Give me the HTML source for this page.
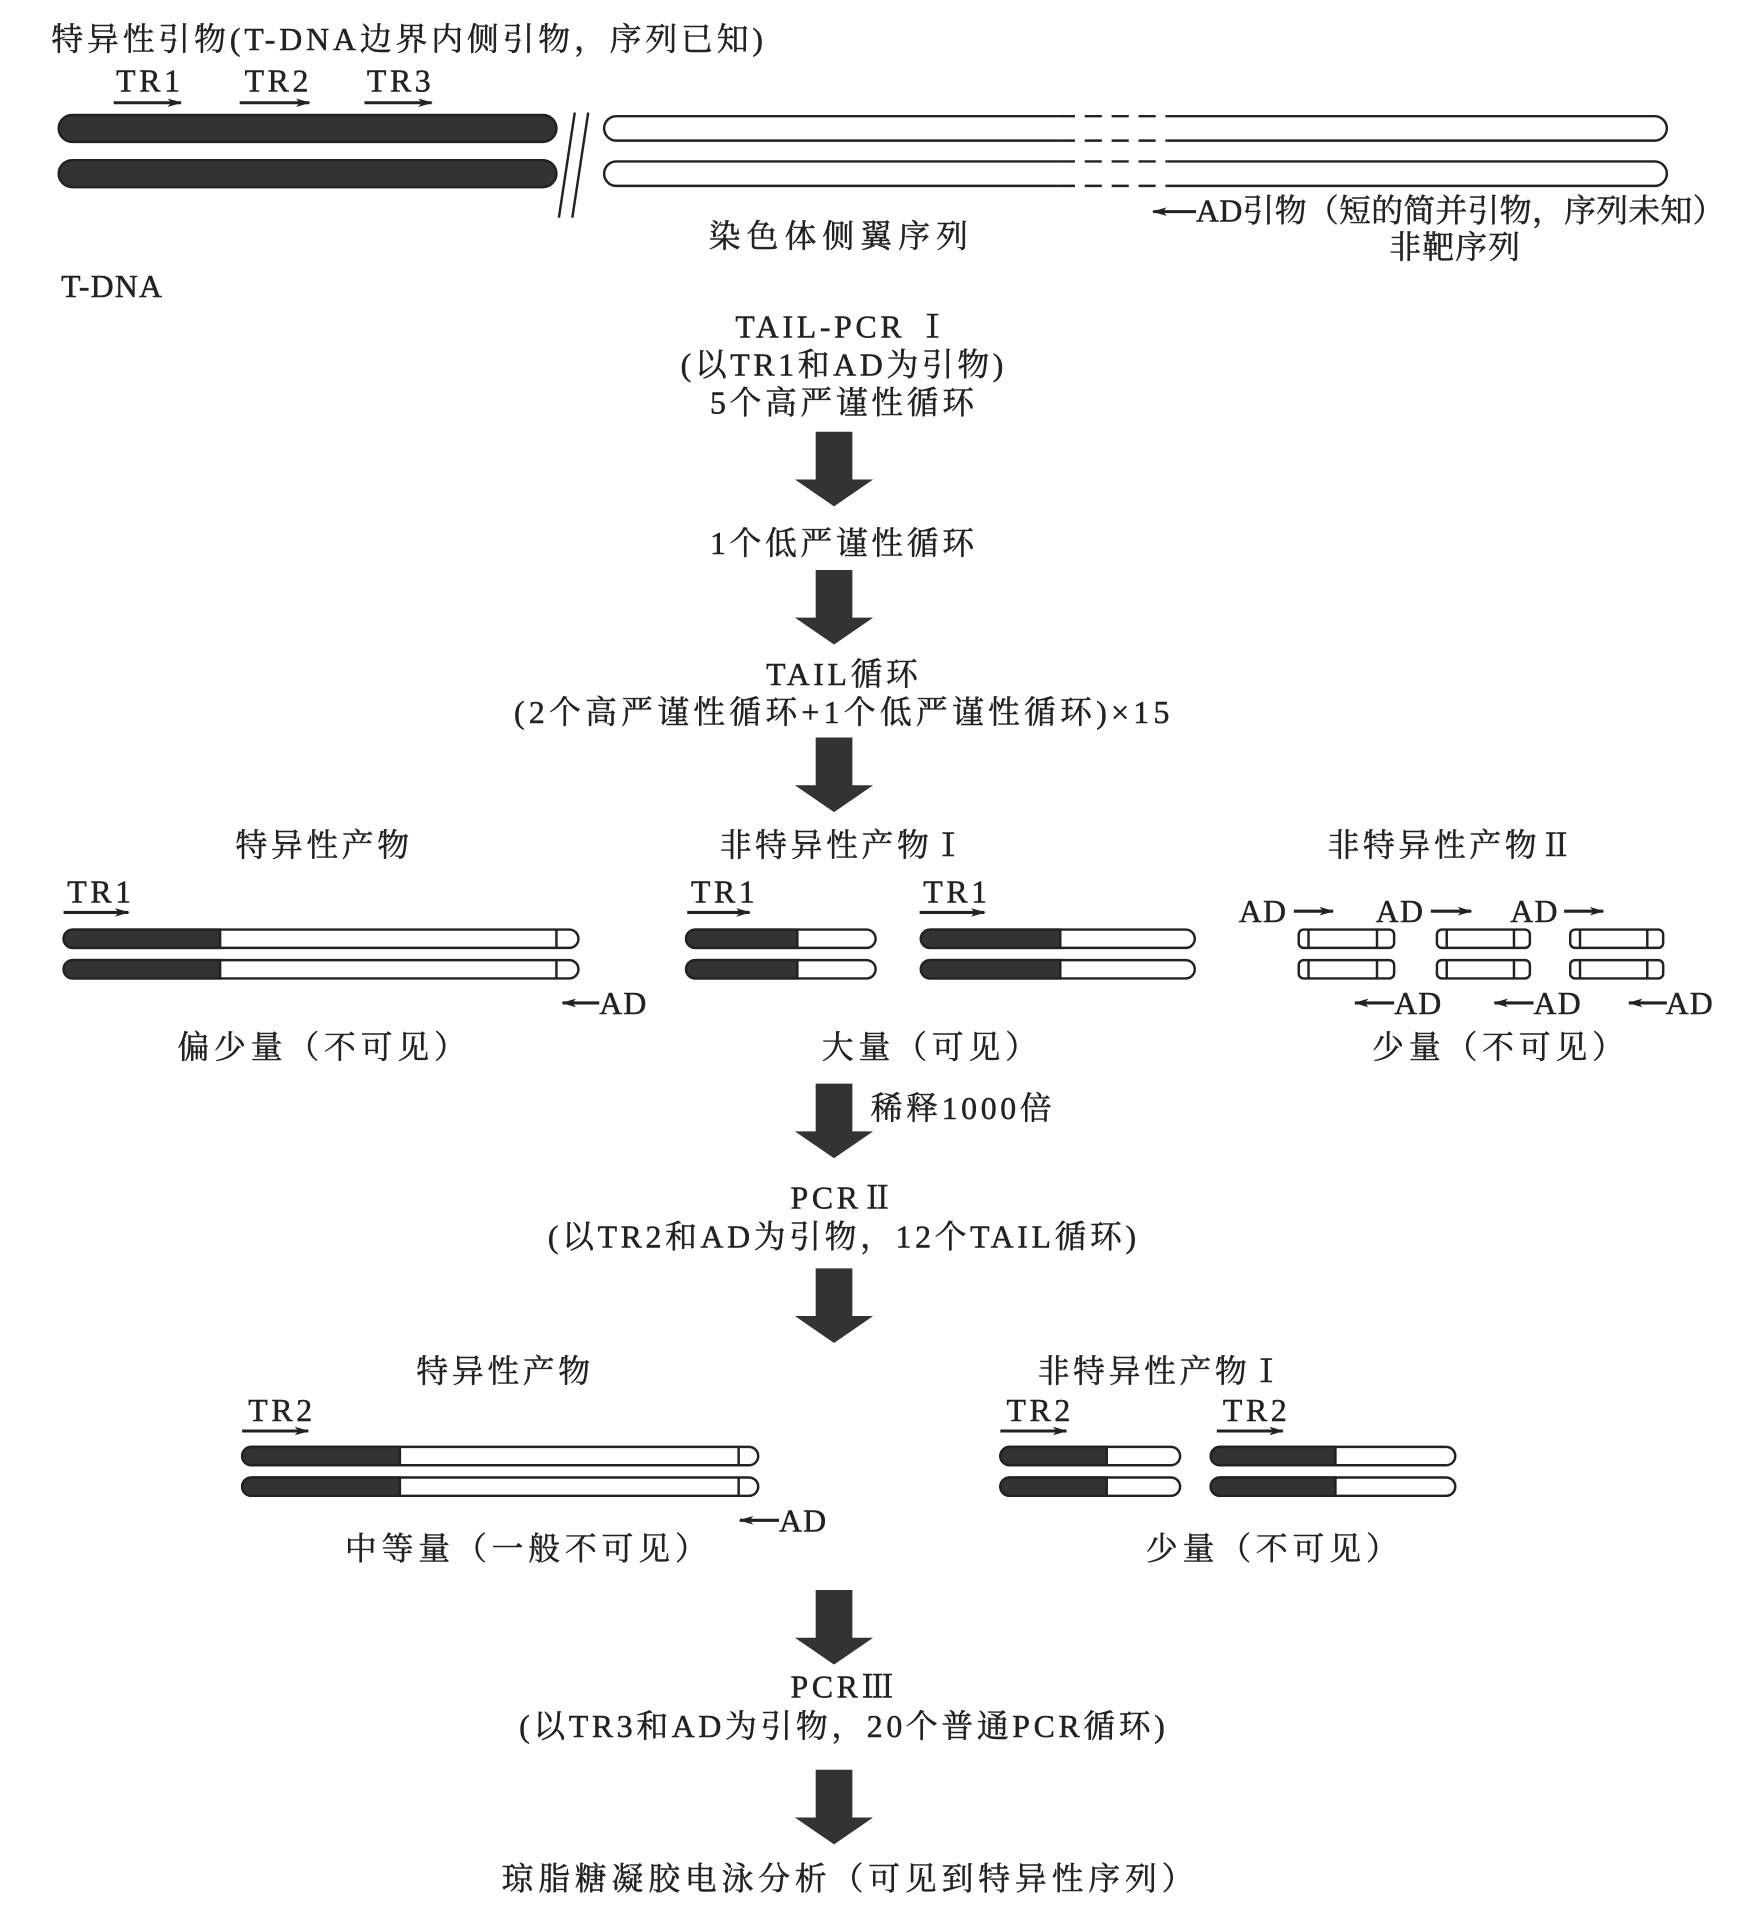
<!DOCTYPE html>
<html><head><meta charset="utf-8"><style>
html,body{margin:0;padding:0;background:#fff}
svg{display:block}
text{font-family:"Liberation Serif","Noto Serif CJK SC",serif;font-size:26px;fill:#222;letter-spacing:3px;stroke:#222;stroke-width:0.4px}
.c{text-anchor:middle}
</style></head><body>
<svg width="1761" height="1908" viewBox="0 0 1440 1560" preserveAspectRatio="none" xmlns="http://www.w3.org/2000/svg">
<defs>
<marker id="ah" markerWidth="12" markerHeight="8" refX="11" refY="4" orient="auto" markerUnits="userSpaceOnUse"><path d="M0,0.5 L12,4 L0,7.5 L3,4 Z" fill="#222"/></marker>
<g id="blk"><polygon points="-15,0 15,0 15,39 32,39 0,61 -32,39 -15,39" fill="#333"/></g>
</defs>
<g stroke="#222" stroke-width="2.5" fill="none">
<line x1="93" y1="84" x2="148" y2="84" marker-end="url(#ah)"/>
<line x1="196" y1="84" x2="253" y2="84" marker-end="url(#ah)"/>
<line x1="298" y1="84" x2="353" y2="84" marker-end="url(#ah)"/>
</g>
<text x="42" y="41" style="letter-spacing:3.2px">特异性引物(T-DNA边界内侧引物，序列已知)</text>
<text x="95" y="75">TR1</text><text x="200" y="75">TR2</text><text x="300" y="75">TR3</text>
<rect x="48" y="94" width="407" height="22" rx="11" fill="#333" stroke="#222" stroke-width="2"/>
<rect x="48" y="131" width="407" height="22" rx="11" fill="#333" stroke="#222" stroke-width="2"/>
<line x1="470" y1="92" x2="457" y2="178" stroke="#222" stroke-width="2"/>
<line x1="481" y1="92" x2="468" y2="178" stroke="#222" stroke-width="2"/>
<g stroke="#222" stroke-width="2" fill="#fff">
<path d="M865,95 H504 A10,10 0 0 0 504,115 H865"/>
<path d="M955,95 H1353 A10,10 0 0 1 1353,115 H955"/>
<path d="M865,132 H504 A10,10 0 0 0 504,152 H865"/>
<path d="M955,132 H1353 A10,10 0 0 1 1353,152 H955"/>
</g>
<g stroke="#222" stroke-width="2" stroke-dasharray="14,8">
<line x1="865" y1="95" x2="955" y2="95"/><line x1="865" y1="115" x2="955" y2="115"/>
<line x1="865" y1="132" x2="955" y2="132"/><line x1="865" y1="152" x2="955" y2="152"/>
</g>
<text class="c" x="688" y="202" style="letter-spacing:5px">染色体侧翼序列</text>
<line x1="978" y1="173" x2="943" y2="173" stroke="#222" stroke-width="2.5" marker-end="url(#ah)"/>
<text x="978" y="181" font-size="24" style="letter-spacing:0.3px">AD引物（短的简并引物，序列未知）</text>
<text class="c" x="1190" y="211" font-size="24" style="letter-spacing:1px">非靶序列</text>
<text x="50" y="243" font-size="25" style="letter-spacing:1px">T-DNA</text>

<text class="c" x="690" y="276">TAIL-PCR Ⅰ</text>
<text class="c" x="690" y="307">(以TR1和AD为引物)</text>
<text class="c" x="690" y="338">5个高严谨性循环</text>
<use href="#blk" x="682" y="353"/>
<text class="c" x="690" y="453">1个低严谨性循环</text>
<use href="#blk" x="682" y="466"/>
<text class="c" x="690" y="560">TAIL循环</text>
<text class="c" x="690" y="591" style="letter-spacing:3.5px">(2个高严谨性循环+1个低严谨性循环)×15</text>
<use href="#blk" x="682" y="603"/>

<text class="c" x="265" y="700">特异性产物</text>
<text class="c" x="690" y="700">非特异性产物Ⅰ</text>
<text class="c" x="1187" y="700">非特异性产物Ⅱ</text>
<text x="55" y="738">TR1</text><text x="565" y="738">TR1</text><text x="755" y="738">TR1</text>
<g stroke="#222" stroke-width="2.5">
<line x1="52" y1="746" x2="105" y2="746" marker-end="url(#ah)"/>
<line x1="562" y1="746" x2="613" y2="746" marker-end="url(#ah)"/>
<line x1="752" y1="746" x2="805" y2="746" marker-end="url(#ah)"/>
</g>
<g stroke="#222" stroke-width="2">
<rect x="52" y="760" width="421" height="15" rx="7.5" fill="#fff"/><path d="M59.5,760 H180 V775 H59.5 A7.5,7.5 0 0 1 59.5,760Z" fill="#333"/><line x1="455" y1="760" x2="455" y2="775"/>
<rect x="52" y="785" width="421" height="15" rx="7.5" fill="#fff"/><path d="M59.5,785 H180 V800 H59.5 A7.5,7.5 0 0 1 59.5,785Z" fill="#333"/><line x1="455" y1="785" x2="455" y2="800"/>
<rect x="561" y="760" width="155" height="15" rx="7.5" fill="#fff"/><path d="M568.5,760 H652 V775 H568.5 A7.5,7.5 0 0 1 568.5,760Z" fill="#333"/>
<rect x="561" y="785" width="155" height="15" rx="7.5" fill="#fff"/><path d="M568.5,785 H652 V800 H568.5 A7.5,7.5 0 0 1 568.5,785Z" fill="#333"/>
<rect x="753" y="760" width="224" height="15" rx="7.5" fill="#fff"/><path d="M760.5,760 H867 V775 H760.5 A7.5,7.5 0 0 1 760.5,760Z" fill="#333"/>
<rect x="753" y="785" width="224" height="15" rx="7.5" fill="#fff"/><path d="M760.5,785 H867 V800 H760.5 A7.5,7.5 0 0 1 760.5,785Z" fill="#333"/>
<g fill="#fff">
<rect x="1062" y="760" width="78" height="15" rx="4"/><rect x="1062" y="785" width="78" height="15" rx="4"/>
<rect x="1175" y="760" width="76" height="15" rx="4"/><rect x="1175" y="785" width="76" height="15" rx="4"/>
<rect x="1284" y="760" width="76" height="15" rx="4"/><rect x="1284" y="785" width="76" height="15" rx="4"/>
</g>
<line x1="1070" y1="760" x2="1070" y2="775"/><line x1="1126" y1="760" x2="1126" y2="775"/>
<line x1="1070" y1="785" x2="1070" y2="800"/><line x1="1126" y1="785" x2="1126" y2="800"/>
<line x1="1183" y1="760" x2="1183" y2="775"/><line x1="1238" y1="760" x2="1238" y2="775"/>
<line x1="1183" y1="785" x2="1183" y2="800"/><line x1="1238" y1="785" x2="1238" y2="800"/>
<line x1="1292" y1="760" x2="1292" y2="775"/><line x1="1347" y1="760" x2="1347" y2="775"/>
<line x1="1292" y1="785" x2="1292" y2="800"/><line x1="1347" y1="785" x2="1347" y2="800"/>
</g>
<g stroke="#222" stroke-width="2.5">
<line x1="1058" y1="745" x2="1090" y2="745" marker-end="url(#ah)"/>
<line x1="1170" y1="745" x2="1203" y2="745" marker-end="url(#ah)"/>
<line x1="1279" y1="745" x2="1311" y2="745" marker-end="url(#ah)"/>
<line x1="490" y1="820" x2="460" y2="820" marker-end="url(#ah)"/>
<line x1="1140" y1="820" x2="1108" y2="820" marker-end="url(#ah)"/>
<line x1="1254" y1="820" x2="1222" y2="820" marker-end="url(#ah)"/>
<line x1="1363" y1="820" x2="1332" y2="820" marker-end="url(#ah)"/>
</g>
<text x="1013" y="754" style="letter-spacing:1px">AD</text><text x="1125" y="754" style="letter-spacing:1px">AD</text><text x="1235" y="754" style="letter-spacing:1px">AD</text>
<text x="490" y="829" style="letter-spacing:1px">AD</text><text x="1140" y="829" style="letter-spacing:1px">AD</text><text x="1254" y="829" style="letter-spacing:1px">AD</text><text x="1362" y="829" style="letter-spacing:1px">AD</text>
<text class="c" x="265" y="865" style="letter-spacing:4px">偏少量（不可见）</text>
<text class="c" x="762" y="865" style="letter-spacing:4px">大量（可见）</text>
<text class="c" x="1227" y="865" style="letter-spacing:4px">少量（不可见）</text>

<use href="#blk" x="682" y="886"/>
<text x="712" y="915">稀释1000倍</text>
<text class="c" x="690" y="988">PCRⅡ</text>
<text class="c" x="690" y="1020">(以TR2和AD为引物，12个TAIL循环)</text>
<use href="#blk" x="682" y="1037"/>

<text class="c" x="413" y="1130">特异性产物</text>
<text class="c" x="950" y="1130">非特异性产物Ⅰ</text>
<text x="203" y="1162">TR2</text><text x="823" y="1162">TR2</text><text x="1000" y="1162">TR2</text>
<g stroke="#222" stroke-width="2.5">
<line x1="198" y1="1170" x2="252" y2="1170" marker-end="url(#ah)"/>
<line x1="818" y1="1170" x2="872" y2="1170" marker-end="url(#ah)"/>
<line x1="995" y1="1170" x2="1049" y2="1170" marker-end="url(#ah)"/>
<line x1="637" y1="1243" x2="605" y2="1243" marker-end="url(#ah)"/>
</g>
<g stroke="#222" stroke-width="2">
<rect x="198" y="1183" width="422" height="15" rx="7.5" fill="#fff"/><path d="M205.5,1183 H327 V1198 H205.5 A7.5,7.5 0 0 1 205.5,1183Z" fill="#333"/><line x1="604" y1="1183" x2="604" y2="1198"/>
<rect x="198" y="1208" width="422" height="15" rx="7.5" fill="#fff"/><path d="M205.5,1208 H327 V1223 H205.5 A7.5,7.5 0 0 1 205.5,1208Z" fill="#333"/><line x1="604" y1="1208" x2="604" y2="1223"/>
<rect x="818" y="1183" width="147" height="15" rx="7.5" fill="#fff"/><path d="M825.5,1183 H905 V1198 H825.5 A7.5,7.5 0 0 1 825.5,1183Z" fill="#333"/>
<rect x="818" y="1208" width="147" height="15" rx="7.5" fill="#fff"/><path d="M825.5,1208 H905 V1223 H825.5 A7.5,7.5 0 0 1 825.5,1208Z" fill="#333"/>
<rect x="990" y="1183" width="200" height="15" rx="7.5" fill="#fff"/><path d="M997.5,1183 H1092 V1198 H997.5 A7.5,7.5 0 0 1 997.5,1183Z" fill="#333"/>
<rect x="990" y="1208" width="200" height="15" rx="7.5" fill="#fff"/><path d="M997.5,1208 H1092 V1223 H997.5 A7.5,7.5 0 0 1 997.5,1208Z" fill="#333"/>
</g>
<text x="637" y="1252" style="letter-spacing:1px">AD</text>
<text class="c" x="432" y="1275" style="letter-spacing:4px">中等量（一般不可见）</text>
<text class="c" x="1042" y="1275" style="letter-spacing:4px">少量（不可见）</text>

<use href="#blk" x="682" y="1300"/>
<text class="c" x="690" y="1388">PCRⅢ</text>
<text class="c" x="690" y="1420">(以TR3和AD为引物，20个普通PCR循环)</text>
<use href="#blk" x="682" y="1447"/>
<text class="c" x="695" y="1545" style="letter-spacing:4px">琼脂糖凝胶电泳分析（可见到特异性序列）</text>
</svg>
</body></html>
